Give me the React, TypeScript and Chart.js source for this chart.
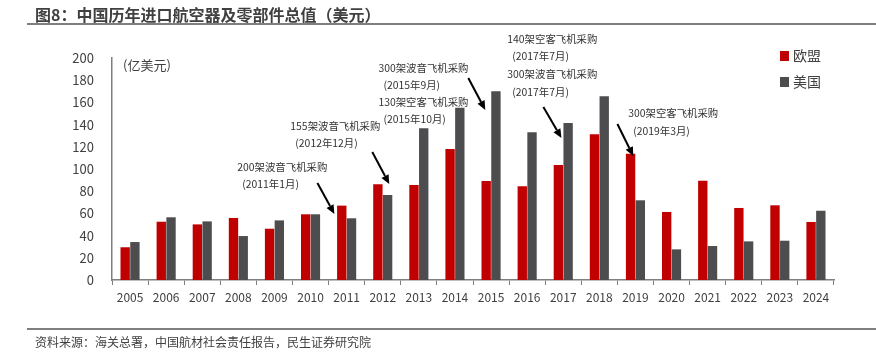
import React, { useEffect, useRef } from "react";
import { Chart, registerables } from "chart.js";

Chart.register(...registerables);

const years = ["2005","2006","2007","2008","2009","2010","2011","2012","2013","2014","2015","2016","2017","2018","2019","2020","2021","2022","2023","2024"];
const euValues = [29.5, 52.5, 50.1, 55.9, 46.2, 59.2, 67.0, 86.2, 85.6, 118.0, 89.2, 84.4, 103.6, 131.2, 113.8, 61.3, 89.5, 64.9, 67.3, 52.3];
const usValues = [34.2, 56.5, 52.8, 39.6, 53.7, 59.2, 55.6, 76.6, 136.6, 155.2, 170.0, 133.0, 141.4, 165.5, 71.8, 27.6, 30.6, 34.8, 35.4, 62.4];
const seriesNames = ["欧盟", "美国"];
const yTicks = [0, 20, 40, 60, 80, 100, 120, 140, 160, 180, 200];

const titleText = "图8：中国历年进口航空器及零部件总值（美元）";
const sourceText = "资料来源：海关总署，中国航材社会责任报告，民生证券研究院";
const unitText = "(亿美元)";

// annotation anchors in data units: x = category index, y = value
const annotations = [
  { x: 2.97, ys: [101.8, 86.5], lines: ["200架波音飞机采购", "(2011年1月)"], arrow: [5.19, 87.4, 5.66, 59.5] },
  { x: 4.44, ys: [138.7, 123.4], lines: ["155架波音飞机采购", "(2012年12月)"], arrow: [6.71, 115.3, 7.18, 86.5] },
  { x: 6.88, ys: [191.0, 175.7, 160.4, 145.0], lines: ["300架波音飞机采购", "(2015年9月)", "130架空客飞机采购", "(2015年10月)"], arrow: [9.37, 182.0, 9.84, 153.2] },
  { x: 10.45, ys: [217.1, 201.8, 185.6, 169.4], lines: ["140架空客飞机采购", "(2017年7月)", "300架波音飞机采购", "(2017年7月)"], arrow: [11.45, 155.9, 11.95, 127.9] },
  { x: 13.8, ys: [150.5, 134.2], lines: ["300架空客飞机采购", "(2019年3月)"], arrow: [13.5, 140.5, 13.94, 111.7] },
];

const RED = "#C00000";
const GREY = "#4D4D4F";
const TEXT = "#404040";
const FONT = "'Noto Sans CJK SC', 'Noto Sans', sans-serif";

const decorPlugin = {
  id: "decor",
  afterDraw(chart: any) {
    const ctx = chart.ctx as CanvasRenderingContext2D;
    const xs = chart.scales.x;
    const ys = chart.scales.y;
    const cw = chart.width;
    ctx.save();
    // title
    ctx.fillStyle = TEXT;
    ctx.font = `bold 16px ${FONT}`;
    ctx.textBaseline = "middle";
    ctx.textAlign = "left";
    ctx.fillText(titleText, 35, 15);
    ctx.strokeStyle = "#7f7f7f";
    ctx.lineWidth = 2;
    ctx.beginPath();
    ctx.moveTo(27, 24);
    ctx.lineTo(cw, 24);
    ctx.stroke();
    // footer
    ctx.beginPath();
    ctx.moveTo(27, 329);
    ctx.lineTo(cw, 329);
    ctx.stroke();
    ctx.font = `12px ${FONT}`;
    ctx.fillStyle = TEXT;
    ctx.fillText(sourceText, 35, 342);
    // unit
    ctx.font = `13px ${FONT}`;
    ctx.fillText(unitText, 123, 65);
    // legend
    const cols = [RED, GREY];
    seriesNames.forEach((n, i) => {
      const y = 56 + i * 26;
      ctx.fillStyle = cols[i];
      ctx.fillRect(780, y - 5, 9, 10);
      ctx.fillStyle = TEXT;
      ctx.font = `14px ${FONT}`;
      ctx.fillText(n, 793, y);
    });
    // annotations
    ctx.font = `10.4px ${FONT}`;
    annotations.forEach((a) => {
      const lx = xs.getPixelForValue(a.x);
      ctx.fillStyle = "#333333";
      a.lines.forEach((t, i) => {
        const py = ys.getPixelForValue(a.ys[i]);
        ctx.fillText(t, lx + (t.startsWith("(") ? 5 : 0), py);
      });
      const x1 = xs.getPixelForValue(a.arrow[0]);
      const y1 = ys.getPixelForValue(a.arrow[1]);
      const x2 = xs.getPixelForValue(a.arrow[2]);
      const y2 = ys.getPixelForValue(a.arrow[3]);
      const ang = Math.atan2(y2 - y1, x2 - x1);
      const hl = 9, hw = 4;
      const bx = x2 - hl * Math.cos(ang);
      const by = y2 - hl * Math.sin(ang);
      ctx.strokeStyle = "#000";
      ctx.lineWidth = 2;
      ctx.beginPath();
      ctx.moveTo(x1, y1);
      ctx.lineTo(bx, by);
      ctx.stroke();
      ctx.fillStyle = "#000";
      ctx.beginPath();
      ctx.moveTo(x2, y2);
      ctx.lineTo(bx + hw * Math.sin(ang), by - hw * Math.cos(ang));
      ctx.lineTo(bx - hw * Math.sin(ang), by + hw * Math.cos(ang));
      ctx.closePath();
      ctx.fill();
    });
    ctx.restore();
  },
};

export default function App() {
  const ref = useRef<HTMLCanvasElement>(null);
  useEffect(() => {
    if (!ref.current) return;
    const chart = new Chart(ref.current, {
      type: "bar",
      data: {
        labels: years,
        datasets: [
          { label: seriesNames[0], data: euValues, backgroundColor: RED, categoryPercentage: 0.54, barPercentage: 0.96 },
          { label: seriesNames[1], data: usValues, backgroundColor: GREY, categoryPercentage: 0.54, barPercentage: 0.96 },
        ],
      },
      options: {
        responsive: false,
        animation: false,
        devicePixelRatio: 1,
        layout: { padding: { left: 62, right: 42, top: 58, bottom: 47 } },
        plugins: { legend: { display: false }, tooltip: { enabled: false } },
        scales: {
          x: {
            offset: true,
            afterFit: (s: any) => { s.height = 30; },
            grid: { display: true, drawOnChartArea: false, drawTicks: true, tickLength: 5, color: "#7f7f7f", offset: true },
            border: { display: true, color: "#7f7f7f", width: 1.5 },
            ticks: { color: TEXT, font: { size: 12, family: FONT }, padding: 5, maxRotation: 0, autoSkip: false },
          },
          y: {
            min: 0,
            max: 200,
            afterFit: (s: any) => { s.width = 50; },
            afterBuildTicks: (s: any) => { s.ticks = yTicks.map((v) => ({ value: v })); },
            grid: { display: false, drawTicks: false },
            border: { display: true, color: "#7f7f7f", width: 1.5 },
            ticks: { color: TEXT, font: { size: 13, family: FONT }, padding: 18 },
          },
        },
      },
      plugins: [decorPlugin],
    });
    return () => chart.destroy();
  }, []);
  return (
    <div style={{ position: "absolute", left: 0, top: 0, width: 876, height: 357, background: "#fff" }}>
      <canvas ref={ref} width={876} height={357} style={{ display: "block", width: 876, height: 357 }} />
    </div>
  );
}
